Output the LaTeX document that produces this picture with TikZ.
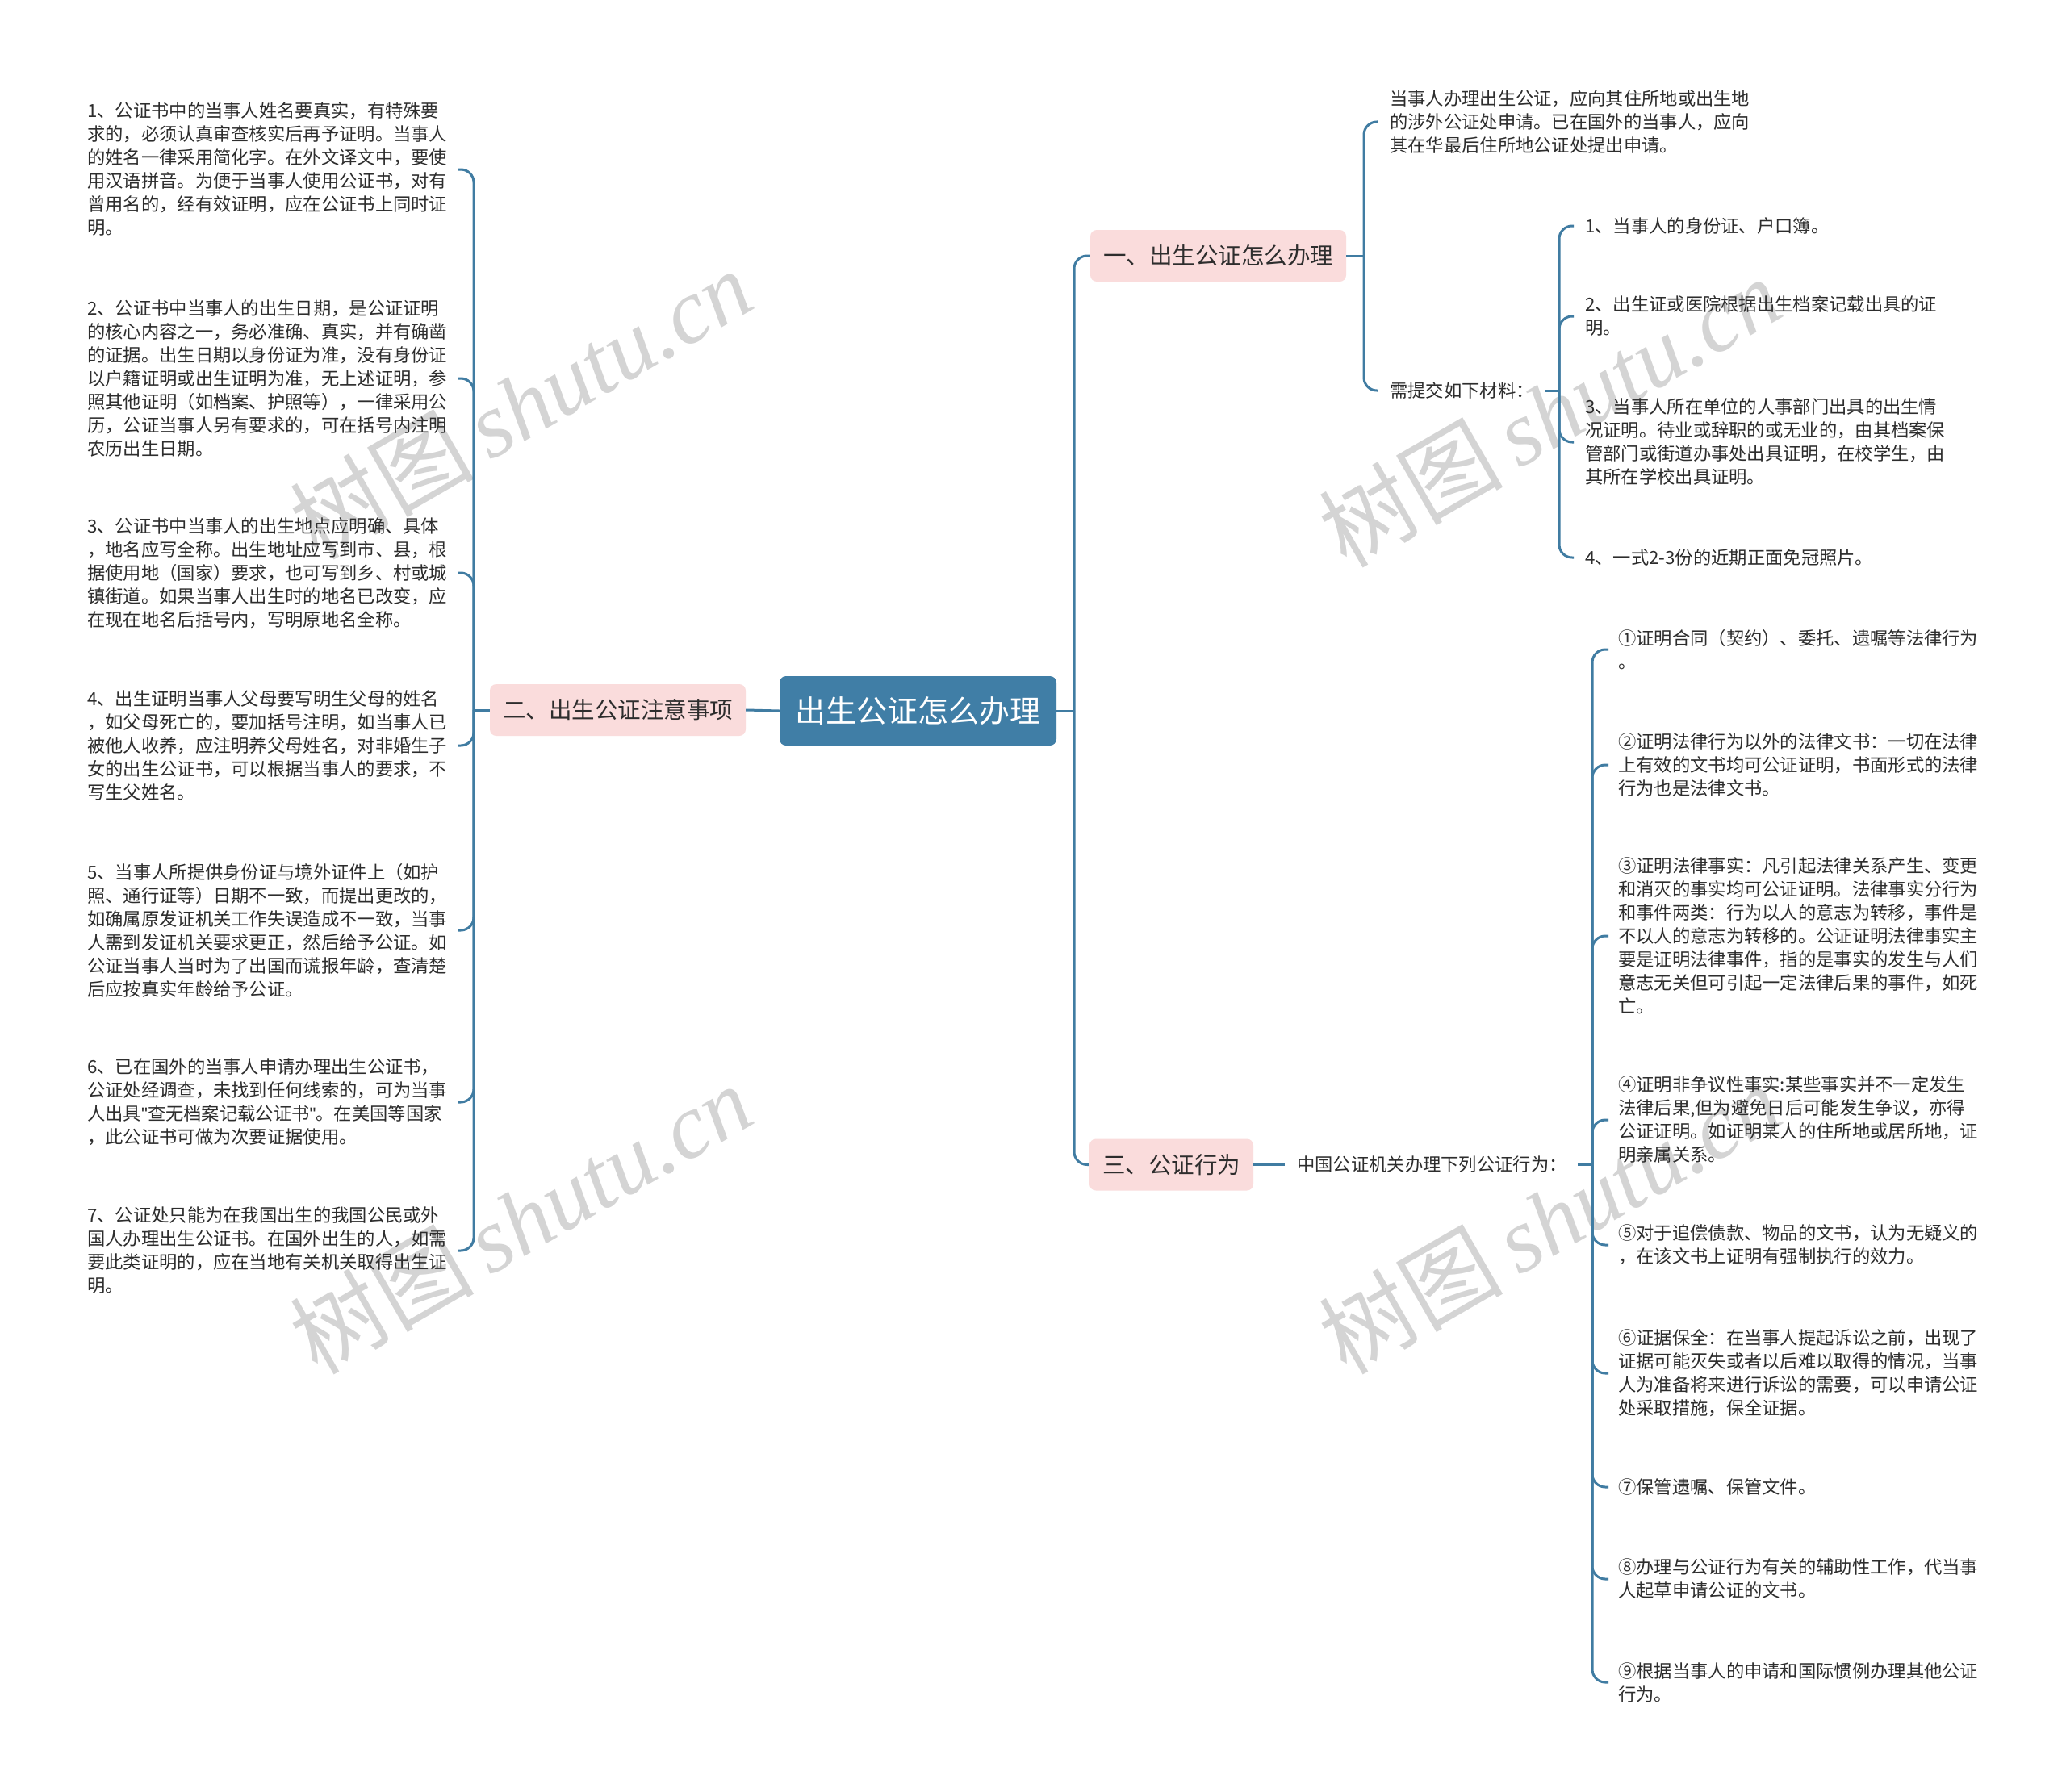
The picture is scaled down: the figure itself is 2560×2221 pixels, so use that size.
\documentclass[tikz,border=0pt]{standalone}
\usepackage{fontspec}
\setmainfont{Noto Sans CJK SC}
\newfontfamily\wmserif{Liberation Serif}
\newfontfamily\latinf{Liberation Sans}
\newcommand{\dq}{{\latinf\char34}}
\definecolor{linec}{RGB}{64,124,162}
\definecolor{rootc}{RGB}{64,126,166}
\definecolor{pinkc}{RGB}{250,220,220}
\definecolor{txt}{RGB}{45,45,45}
\begin{document}
\begin{tikzpicture}[x=1pt,y=-1pt,
  conn/.style={draw=linec, line width=3pt, rounded corners=16pt},
  rootbox/.style={fill=rootc, rounded corners=8pt, text=white, inner sep=0pt,
    minimum width=343pt, minimum height=86pt, font=\fontsize{38pt}{44pt}\selectfont},
  branch/.style={fill=pinkc, rounded corners=8pt, text=txt, inner xsep=16pt, inner ysep=0pt,
    minimum height=64pt, font=\fontsize{28.5pt}{34pt}\selectfont},
  leafl/.style={inner sep=0pt, text width=450pt, align=left, anchor=west, text=txt,
    font=\fontsize{22.3pt}{29pt}\selectfont},
  leafr/.style={inner sep=0pt, text width=470pt, align=left, anchor=west, text=txt,
    font=\fontsize{22.3pt}{29pt}\selectfont},
  plain/.style={inner sep=0pt, anchor=west, text=txt, font=\fontsize{22.3pt}{29pt}\selectfont},
  wm/.style={rotate=30, text=black!17, inner sep=0pt, font=\fontsize{114pt}{114pt}\selectfont}
]
\useasboundingbox (0,0) rectangle (2560,2221);
\fill[white] (0,0) rectangle (2560,2221);

% watermarks
\node[wm] (w1) at (645,500) {树图\,{\wmserif\itshape shutu.cn}};
\node[wm] (w2) at (1920,510) {树图\,{\wmserif\itshape shutu.cn}};
\node[wm] (w3) at (645,1510) {树图\,{\wmserif\itshape shutu.cn}};
\node[wm] (w4) at (1920,1510) {树图\,{\wmserif\itshape shutu.cn}};

% main nodes
\node[rootbox] (root) at (1137.5,881) {出生公证怎么办理};
\node[branch] (b2) at (765.5,880) {二、出生公证注意事项};
\node[branch] (b1) at (1509.5,317) {一、出生公证怎么办理};
\node[branch] (b3) at (1451.5,1443.5) {三、公证行为};

% left leaves
\node[leafl] (L1) at (108,210) {1、公证书中的当事人姓名要真实，有特殊要\\求的，必须认真审查核实后再予证明。当事人\\的姓名一律采用简化字。在外文译文中，要使\\用汉语拼音。为便于当事人使用公证书，对有\\曾用名的，经有效证明，应在公证书上同时证\\明。};
\node[leafl] (L2) at (108,469) {2、公证书中当事人的出生日期，是公证证明\\的核心内容之一，务必准确、真实，并有确凿\\的证据。出生日期以身份证为准，没有身份证\\以户籍证明或出生证明为准，无上述证明，参\\照其他证明（如档案、护照等），一律采用公\\历，公证当事人另有要求的，可在括号内注明\\农历出生日期。};
\node[leafl] (L3) at (108,710) {3、公证书中当事人的出生地点应明确、具体\\，地名应写全称。出生地址应写到市、县，根\\据使用地（国家）要求，也可写到乡、村或城\\镇街道。如果当事人出生时的地名已改变，应\\在现在地名后括号内，写明原地名全称。};
\node[leafl] (L4) at (108,924) {4、出生证明当事人父母要写明生父母的姓名\\，如父母死亡的，要加括号注明，如当事人已\\被他人收养，应注明养父母姓名，对非婚生子\\女的出生公证书，可以根据当事人的要求，不\\写生父姓名。};
\node[leafl] (L5) at (108,1153) {5、当事人所提供身份证与境外证件上（如护\\照、通行证等）日期不一致，而提出更改的，\\如确属原发证机关工作失误造成不一致，当事\\人需到发证机关要求更正，然后给予公证。如\\公证当事人当时为了出国而谎报年龄，查清楚\\后应按真实年龄给予公证。};
\node[leafl] (L6) at (108,1366) {6、已在国外的当事人申请办理出生公证书，\\公证处经调查，未找到任何线索的，可为当事\\人出具\dq 查无档案记载公证书\dq 。在美国等国家\\，此公证书可做为次要证据使用。};
\node[leafl] (L7) at (108,1550) {7、公证处只能为在我国出生的我国公民或外\\国人办理出生公证书。在国外出生的人，如需\\要此类证明的，应在当地有关机关取得出生证\\明。};

% right: branch one
\node[leafr] (R1) at (1722,151) {当事人办理出生公证，应向其住所地或出生地\\的涉外公证处申请。已在国外的当事人，应向\\其在华最后住所地公证处提出申请。};
\node[plain] (mat) at (1722,484) {需提交如下材料：};
\node[leafr] (M1) at (1964,280) {1、当事人的身份证、户口簿。};
\node[leafr] (M2) at (1964,392) {2、出生证或医院根据出生档案记载出具的证\\明。};
\node[leafr] (M3) at (1964,548) {3、当事人所在单位的人事部门出具的出生情\\况证明。待业或辞职的或无业的，由其档案保\\管部门或街道办事处出具证明，在校学生，由\\其所在学校出具证明。};
\node[leafr] (M4) at (1964,691) {4、一式2-3份的近期正面免冠照片。};

% right: branch three
\node[plain] (cpn) at (1607,1443.5) {中国公证机关办理下列公证行为：};
\node[leafr] (A1) at (2005,805) {①证明合同（契约）、委托、遗嘱等法律行为\\。};
\node[leafr] (A2) at (2005,948) {②证明法律行为以外的法律文书：一切在法律\\上有效的文书均可公证证明，书面形式的法律\\行为也是法律文书。};
\node[leafr] (A3) at (2005,1160) {③证明法律事实：凡引起法律关系产生、变更\\和消灭的事实均可公证证明。法律事实分行为\\和事件两类：行为以人的意志为转移，事件是\\不以人的意志为转移的。公证证明法律事实主\\要是证明法律事件，指的是事实的发生与人们\\意志无关但可引起一定法律后果的事件，如死\\亡。};
\node[leafr] (A4) at (2005,1388) {④证明非争议性事实:某些事实并不一定发生\\法律后果,但为避免日后可能发生争议，亦得\\公证证明。如证明某人的住所地或居所地，证\\明亲属关系。};
\node[leafr] (A5) at (2005,1543) {⑤对于追偿债款、物品的文书，认为无疑义的\\，在该文书上证明有强制执行的效力。};
\node[leafr] (A6) at (2005,1702) {⑥证据保全：在当事人提起诉讼之前，出现了\\证据可能灭失或者以后难以取得的情况，当事\\人为准备将来进行诉讼的需要，可以申请公证\\处采取措施，保全证据。};
\node[leafr] (A7) at (2005,1843) {⑦保管遗嘱、保管文件。};
\node[leafr] (A8) at (2005,1957) {⑧办理与公证行为有关的辅助性工作，代当事\\人起草申请公证的文书。};
\node[leafr] (A9) at (2005,2085) {⑨根据当事人的申请和国际惯例办理其他公证\\行为。};

% connectors: root
\coordinate (jR) at (1331,881);
\draw[conn] (root.west) -- (b2.east);
\draw[conn] (root.east) -- (jR);
\draw[conn] (jR) |- (b1.west);
\draw[conn] (jR) |- (b3.west);

% left
\coordinate (jL) at (587,880);
\draw[conn] (b2.west) -- (jL);
\foreach \n in {L1,L2,L3,L4,L5,L6,L7}
  \draw[conn] (jL) |- ([xshift=9pt]\n.east);

% branch one
\coordinate (j1) at (1690,317);
\draw[conn] (b1.east) -- (j1);
\draw[conn] (j1) |- ([xshift=-15pt]R1.west);
\draw[conn] (j1) |- ([xshift=-15pt]mat.west);
\coordinate (j2) at (1932,484);
\draw[conn] ([xshift=14pt]mat.east) -- (j2);
\foreach \n in {M1,M2,M3,M4}
  \draw[conn] (j2) |- ([xshift=-14pt]\n.west);

% branch three
\coordinate (j3) at (1973,1443.5);
\draw[conn] (b3.east) -- ([xshift=-15pt]cpn.west);
\draw[conn] ([xshift=13pt]cpn.east) -- (j3);
\foreach \n in {A1,A2,A3,A4,A5,A6,A7,A8,A9}
  \draw[conn] (j3) |- ([xshift=-12pt]\n.west);
\end{tikzpicture}
\end{document}
